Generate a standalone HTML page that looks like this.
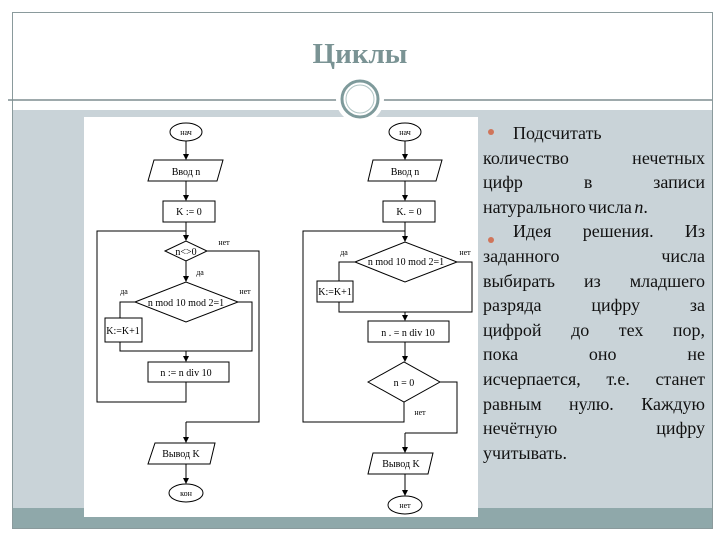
<!DOCTYPE html>
<html><head><meta charset="utf-8"><style>
html,body{margin:0;padding:0;background:#fff;}
#w{position:relative;width:720px;height:540px;overflow:hidden;background:#fff;font-family:"Liberation Serif",serif;}
.t{position:absolute;left:483px;width:222px;font-size:18px;line-height:24.6px;color:#111;text-align:justify;word-spacing:-2px;}
.t div{text-align-last:justify;white-space:nowrap;}
</style></head><body><div id="w">
<svg width="720" height="540" style="position:absolute;left:0;top:0">
<rect x="12.5" y="12.5" width="700" height="516" fill="none" stroke="#8a9a9c" stroke-width="1"/>
<rect x="13" y="110" width="699" height="398" fill="#c9d3d8"/>
<rect x="13" y="508" width="699" height="20" fill="#8fa8aa"/>
<line x1="8" y1="100" x2="712" y2="100" stroke="#7e8e90" stroke-width="1.5"/>
<rect x="84" y="117" width="394" height="400" fill="#fff"/>
<circle cx="360" cy="99" r="22" fill="#fff" stroke="#fff" stroke-width="4"/>
<circle cx="360" cy="99" r="18" fill="none" stroke="#7e9a9b" stroke-width="3"/>
<circle cx="360" cy="99" r="14" fill="none" stroke="#b0c4c4" stroke-width="1"/>
<text x="360" y="63" text-anchor="middle" font-family="Liberation Serif,serif" font-size="29" font-weight="bold" fill="#7a9394">Циклы</text>
<defs><marker id="a" markerWidth="6" markerHeight="6" refX="5" refY="3" orient="auto"><path d="M0,0 L6,3 L0,6z" fill="#000"/></marker></defs>
<g stroke="#000" stroke-width="1" fill="none">
<ellipse cx="186" cy="132" rx="16" ry="9"/>
<line x1="186" y1="141" x2="186" y2="159" marker-end="url(#a)"/>
<polygon points="154,160 223,160 217,181 148,181"/>
<line x1="186" y1="181" x2="186" y2="200" marker-end="url(#a)"/>
<rect x="163" y="201" width="52" height="21"/>
<line x1="186" y1="222" x2="186" y2="240" marker-end="url(#a)"/>
<polygon points="165,251 186,241 207,251 186,261"/>
<line x1="186" y1="261" x2="186" y2="281" marker-end="url(#a)"/>
<polygon points="135,302 186,282 238,302 186,322"/>
<polyline points="135,302 120,302 120,318"/>
<rect x="105" y="318" width="37" height="24"/>
<polyline points="120,342 120,351 252,351 252,302 238,302"/>
<line x1="186" y1="351" x2="186" y2="361" marker-end="url(#a)"/>
<rect x="148" y="362" width="81" height="20"/>
<polyline points="186,382 186,402 97,402 97,231 186,231"/>
<polyline points="207,251 259,251 259,422 186,422"/>
<line x1="186" y1="422" x2="186" y2="442" marker-end="url(#a)"/>
<polygon points="155,443 215,443 210,464 148,464"/>
<line x1="186" y1="464" x2="186" y2="483" marker-end="url(#a)"/>
<ellipse cx="186" cy="493" rx="17" ry="9"/>
<ellipse cx="405" cy="132" rx="16" ry="9"/>
<line x1="405" y1="141" x2="405" y2="159" marker-end="url(#a)"/>
<polygon points="373,160 442,160 436,181 368,181"/>
<line x1="405" y1="181" x2="405" y2="200" marker-end="url(#a)"/>
<rect x="383" y="201" width="52" height="21"/>
<line x1="405" y1="222" x2="405" y2="241" marker-end="url(#a)"/>
<polygon points="355,262 405,242 457,262 405,282"/>
<polyline points="355,262 339,262 339,281"/>
<rect x="317" y="281" width="36" height="21"/>
<polyline points="339,302 339,312 472,312 472,262 457,262"/>
<line x1="405" y1="312" x2="405" y2="320" marker-end="url(#a)"/>
<rect x="368" y="321" width="81" height="21"/>
<line x1="405" y1="342" x2="405" y2="361" marker-end="url(#a)"/>
<polygon points="368,382 404,362 440,382 404,402"/>
<polyline points="404,402 404,422 303,422 303,231 405,231"/>
<polyline points="440,382 457,382 457,433 405,433"/>
<line x1="405" y1="433" x2="405" y2="452" marker-end="url(#a)"/>
<polygon points="373,453 433,453 428,474 368,474"/>
<line x1="405" y1="474" x2="405" y2="495" marker-end="url(#a)"/>
<ellipse cx="405" cy="505" rx="17" ry="9"/>
</g>
<g font-family="Liberation Serif,serif" font-size="10" fill="#000" text-anchor="middle">
<text x="186" y="135" font-size="8">нач</text>
<text x="186" y="175">Ввод n</text>
<text x="189" y="215">K := 0</text>
<text x="186" y="255">n&lt;&gt;0</text>
<text x="186" y="306">n mod 10 mod 2=1</text>
<text x="123" y="334">K:=K+1</text>
<text x="186" y="376">n := n div 10</text>
<text x="181" y="457">Вывод K</text>
<text x="186" y="496" font-size="8">кон</text>
<text x="224" y="245" font-size="8">нет</text>
<text x="200" y="275" font-size="8">да</text>
<text x="124" y="294" font-size="8">да</text>
<text x="245" y="294" font-size="8">нет</text>
<text x="405" y="135" font-size="8">нач</text>
<text x="405" y="175">Ввод n</text>
<text x="409" y="215">K. = 0</text>
<text x="406" y="265">n mod 10 mod 2=1</text>
<text x="335" y="295">K:=K+1</text>
<text x="408" y="336">n . = n div 10</text>
<text x="404" y="386">n = 0</text>
<text x="420" y="415" font-size="8">нет</text>
<text x="344" y="255" font-size="8">да</text>
<text x="465" y="255" font-size="8">нет</text>
<text x="401" y="467">Вывод K</text>
<text x="405" y="508" font-size="8">нет</text>
</g>
<circle cx="491" cy="132" r="3" fill="#d0755a"/>
<circle cx="491" cy="240" r="3" fill="#d0755a"/>
</svg>
<div class="t" style="top:121px;">
<div style="text-indent:30px;text-align-last:left;">Подсчитать</div>
<div>количество нечетных</div>
<div>цифр в записи</div>
<div style="text-align-last:left;">натурального числа <i>n</i>.</div>
<div style="text-indent:30px;">Идея решения. Из</div>
<div>заданного числа</div>
<div>выбирать из младшего</div>
<div>разряда цифру за</div>
<div>цифрой до тех пор,</div>
<div>пока оно не</div>
<div>исчерпается, т.е. станет</div>
<div>равным нулю. Каждую</div>
<div>нечётную цифру</div>
<div style="text-align-last:left;">учитывать.</div>
</div>
</div></body></html>
